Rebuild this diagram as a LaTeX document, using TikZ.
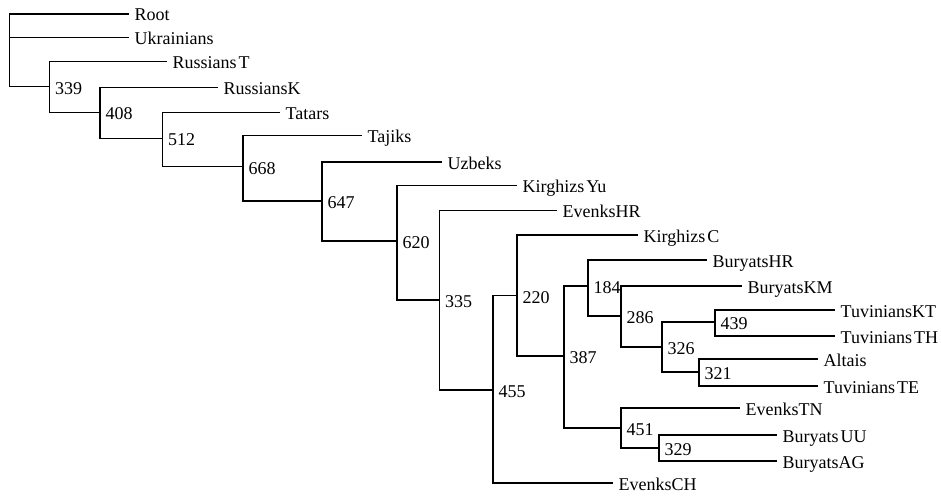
\documentclass[tikz,border=0pt]{standalone}
\usepackage{fontspec}
\setmainfont{Liberation Serif}
\begin{document}
\begin{tikzpicture}[x=1pt,y=-1pt,
  edge/.style={draw=black,line width=1.1pt},
  leaflabel/.style={anchor=base west,inner sep=0pt,xshift=5.5pt,yshift=-7pt,font=\fontsize{18}{20}\selectfont},
  intlabel/.style={anchor=base west,inner sep=0pt,xshift=5.5pt,yshift=-7.5pt,font=\fontsize{18}{20}\selectfont}]
\useasboundingbox (0,0) rectangle (941,495);
% junctions
\coordinate (rootj) at (9.3,14);
\coordinate (n339) at (49.5,86.7);
\coordinate (n408) at (100,112.3);
\coordinate (n512) at (162.3,138.3);
\coordinate (n668) at (243,166.8);
\coordinate (n647) at (322,201);
\coordinate (n620) at (397,241);
\coordinate (n335) at (439.5,300);
\coordinate (n455) at (493,390);
\coordinate (n220) at (517,295.7);
\coordinate (n387) at (564,356);
\coordinate (n184) at (588,286);
\coordinate (n286) at (621,316);
\coordinate (n326) at (662,347);
\coordinate (n439) at (715,322);
\coordinate (n321) at (699,372);
\coordinate (n451) at (621,428);
\coordinate (n329) at (659,448);
% leaf line ends
\coordinate (eRoot) at (129,14);
\coordinate (eUkrainians) at (129,37.3);
\coordinate (eRussiansT) at (167,61.7);
\coordinate (eRussiansK) at (218,87.3);
\coordinate (eTatars) at (280,112.3);
\coordinate (eTajiks) at (362,135.7);
\coordinate (eUzbeks) at (442,162);
\coordinate (eKirghizsYu) at (517,185.5);
\coordinate (eEvenksHR) at (557,210.5);
\coordinate (eKirghizsC) at (638,235);
\coordinate (eBuryatsHR) at (707,260);
\coordinate (eBuryatsKM) at (742,286);
\coordinate (eTuviniansKT) at (835,310);
\coordinate (eTuviniansTH) at (835,336);
\coordinate (eAltais) at (818,359);
\coordinate (eTuviniansTE) at (818,386);
\coordinate (eEvenksTN) at (740,408);
\coordinate (eBuryatsUU) at (777,435);
\coordinate (eBuryatsAG) at (777,461);
\coordinate (eEvenksCH) at (613,483);
% leaf labels
\foreach \n/\t in {Root/Root,Ukrainians/Ukrainians,RussiansT/Russians\kern2pt T,RussiansK/RussiansK,Tatars/Tatars,Tajiks/Tajiks,Uzbeks/Uzbeks,KirghizsYu/Kirghizs\kern2pt Yu,EvenksHR/EvenksHR,KirghizsC/Kirghizs\kern2pt C,BuryatsHR/BuryatsHR,BuryatsKM/BuryatsKM,TuviniansKT/TuviniansKT,TuviniansTH/Tuvinians\kern2pt TH,Altais/Altais,TuviniansTE/Tuvinians\kern2pt TE,EvenksTN/EvenksTN,BuryatsUU/Buryats\kern2pt UU,BuryatsAG/BuryatsAG,EvenksCH/EvenksCH}
  \node[leaflabel] (t\n) at (e\n) {\t};
% internal labels
\foreach \n in {339,408,512,668,647,620,335,455,220,387,184,286,326,439,321,451,329}
  \node[intlabel] (l\n) at (n\n) {\n};
% edges
\draw[edge] (rootj) |- (eRoot);
\draw[edge] (rootj) |- (eUkrainians);
\draw[edge] (rootj) |- (n339);
\draw[edge] (n339) |- (eRussiansT);
\draw[edge] (n339) |- (n408);
\draw[edge] (n408) |- (eRussiansK);
\draw[edge] (n408) |- (n512);
\draw[edge] (n512) |- (eTatars);
\draw[edge] (n512) |- (n668);
\draw[edge] (n668) |- (eTajiks);
\draw[edge] (n668) |- (n647);
\draw[edge] (n647) |- (eUzbeks);
\draw[edge] (n647) |- (n620);
\draw[edge] (n620) |- (eKirghizsYu);
\draw[edge] (n620) |- (n335);
\draw[edge] (n335) |- (eEvenksHR);
\draw[edge] (n335) |- (n455);
\draw[edge] (n455) |- (n220);
\draw[edge] (n455) |- (eEvenksCH);
\draw[edge] (n220) |- (eKirghizsC);
\draw[edge] (n220) |- (n387);
\draw[edge] (n387) |- (n184);
\draw[edge] (n387) |- (n451);
\draw[edge] (n184) |- (eBuryatsHR);
\draw[edge] (n184) |- (n286);
\draw[edge] (n286) |- (eBuryatsKM);
\draw[edge] (n286) |- (n326);
\draw[edge] (n326) |- (n439);
\draw[edge] (n326) |- (n321);
\draw[edge] (n439) |- (eTuviniansKT);
\draw[edge] (n439) |- (eTuviniansTH);
\draw[edge] (n321) |- (eAltais);
\draw[edge] (n321) |- (eTuviniansTE);
\draw[edge] (n451) |- (eEvenksTN);
\draw[edge] (n451) |- (n329);
\draw[edge] (n329) |- (eBuryatsUU);
\draw[edge] (n329) |- (eBuryatsAG);
\end{tikzpicture}
\end{document}
